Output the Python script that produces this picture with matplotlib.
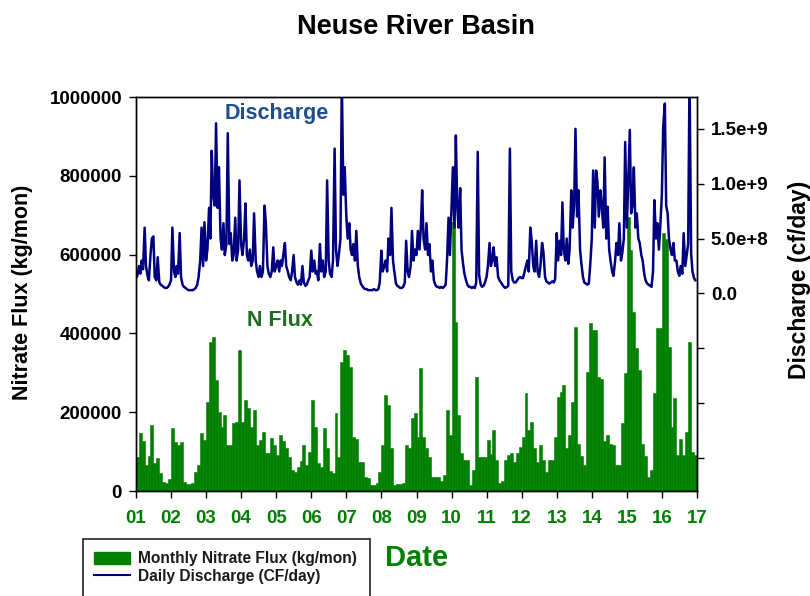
import matplotlib
matplotlib.use('Agg')
import matplotlib.pyplot as plt
import matplotlib.dates as mdates
from matplotlib.patches import Rectangle, Patch
from matplotlib.lines import Line2D
import numpy as np
import pandas as pd

plt.rcParams['font.family'] = ['Liberation Sans', 'DejaVu Sans']
plt.rcParams['font.weight'] = 'bold'

GREEN = '#008000'
NAVY = '#000080'

# monthly nitrate flux, thousand kg/mon, Jan 2001 .. Dec 2016
nitrate_flux_k = [
    86, 147, 127, 66, 90, 168, 70, 85, 45, 22, 20, 30,          # 2001
    160, 124, 117, 124, 22, 18, 18, 20, 48, 66, 147, 130,       # 2002
    226, 378, 391, 282, 200, 163, 193, 117, 117, 172, 175, 358,  # 2003
    175, 231, 210, 163, 205, 117, 130, 150, 96, 96, 135, 117,    # 2004
    91, 142, 127, 110, 86, 53, 48, 60, 75, 117, 66, 100,        # 2005
    231, 163, 70, 60, 160, 109, 50, 45, 198, 86, 327, 358,      # 2006
    345, 315, 137, 132, 74, 74, 35, 33, 15, 15, 20, 48,         # 2007
    117, 244, 218, 109, 15, 18, 18, 20, 117, 109, 185, 198,     # 2008
    137, 312, 137, 109, 86, 35, 35, 35, 25, 40, 205, 142,       # 2009
    683, 430, 193, 96, 79, 79, 15, 53, 289, 86, 86, 86,         # 2010
    129, 93, 155, 79, 20, 25, 79, 91, 96, 74, 96, 112,          # 2011
    137, 249, 155, 175, 109, 74, 117, 79, 48, 79, 79, 137,      # 2012
    239, 251, 269, 109, 142, 226, 416, 120, 90, 66, 302, 426,   # 2013
    409, 409, 289, 284, 127, 142, 120, 117, 66, 66, 172, 300,   # 2014
    695, 612, 455, 363, 307, 120, 90, 35, 53, 249, 414, 414,    # 2015
    655, 640, 366, 163, 236, 91, 132, 91, 150, 378, 99, 91,     # 2016
]

# discharge, 1e8 cf/day, sampled on the 1st and 15th of each month
discharge_1e8 = [
    1.4, 1.6, 2.5, 1.8, 3.0, 2.2, 6.0, 2.5, 1.6, 1.2, 3.5, 5.0, 5.2, 1.5, 1.2, 3.3, 1.0, 0.8, 0.7, 0.6, 0.5, 0.5, 0.6, 0.8,
    1.2, 6.0, 2.0, 1.5, 2.5, 1.8, 5.5, 1.5, 0.8, 0.6, 0.5, 0.4, 0.3, 0.3, 0.3, 0.3, 0.4, 0.5, 0.8, 1.5, 3.0, 6.0, 2.5, 6.5,
    3.0, 4.0, 7.8, 5.0, 13.0, 9.0, 8.0, 15.5, 7.8, 11.5, 5.0, 4.0, 6.4, 3.5, 4.5, 14.6, 4.5, 5.5, 3.0, 3.5, 6.9, 3.0, 4.0, 10.3,
    4.5, 3.5, 5.0, 8.2, 3.5, 3.0, 4.0, 2.5, 3.0, 7.3, 3.0, 2.0, 1.5, 2.5, 1.5, 2.0, 8.0, 6.4, 2.5, 1.8, 1.5, 2.0, 4.2, 2.0,
    2.5, 3.0, 2.0, 3.0, 2.5, 3.5, 4.6, 2.5, 2.0, 1.5, 1.2, 2.0, 3.5, 1.5, 1.0, 0.8, 1.2, 0.8, 2.5, 1.0, 0.7, 0.8, 1.2, 1.5,
    3.9, 2.0, 3.0, 1.8, 2.0, 1.2, 4.5, 2.0, 3.0, 1.5, 2.0, 10.3, 3.0, 1.8, 1.5, 3.0, 13.2, 4.0, 2.5, 3.5, 5.0, 19.5, 9.0, 11.5,
    7.0, 5.0, 6.4, 4.0, 3.5, 4.5, 3.0, 5.7, 2.5, 1.5, 0.9, 0.7, 0.5, 0.4, 0.4, 0.3, 0.3, 0.3, 0.3, 0.4, 0.3, 0.3, 0.4, 1.0,
    3.9, 2.0, 2.5, 3.0, 2.0, 5.0, 3.5, 7.8, 3.0, 2.0, 0.9, 0.7, 0.6, 0.5, 0.5, 0.6, 1.0, 4.8, 2.0, 1.5, 2.5, 5.7, 3.0, 4.0,
    3.5, 5.7, 4.0, 6.0, 9.4, 5.0, 4.0, 6.4, 3.5, 4.5, 2.0, 3.0, 1.2, 0.8, 0.6, 0.6, 0.5, 0.6, 0.5, 0.6, 0.8, 3.0, 6.9, 3.5,
    7.8, 11.5, 6.0, 14.4, 8.0, 6.0, 9.6, 4.0, 2.7, 1.8, 1.2, 0.8, 0.6, 0.6, 0.5, 0.6, 0.5, 1.0, 12.9, 1.7, 0.8, 0.6, 0.7, 1.0,
    1.5, 2.5, 4.6, 2.5, 3.0, 4.2, 2.5, 3.3, 1.5, 1.2, 1.0, 0.8, 0.6, 0.5, 0.6, 0.7, 13.2, 2.0, 1.2, 1.0, 1.0, 1.2, 1.4, 1.5,
    1.4, 1.4, 2.0, 2.5, 3.0, 2.0, 6.0, 4.8, 2.5, 2.0, 4.8, 2.0, 1.5, 2.5, 4.6, 3.8, 1.5, 1.1, 1.0, 0.9, 1.0, 1.1, 1.0, 1.3,
    5.5, 3.0, 4.8, 3.5, 8.3, 4.0, 3.0, 5.0, 2.7, 4.0, 9.4, 6.0, 8.0, 15.0, 7.0, 9.4, 4.0, 2.7, 1.5, 1.0, 0.9, 0.8, 0.9, 2.5,
    5.0, 11.2, 6.0, 11.2, 10.2, 7.0, 9.4, 7.9, 6.0, 12.4, 5.0, 7.9, 4.0, 3.0, 2.0, 1.6, 3.0, 4.6, 3.5, 6.4, 3.0, 3.7, 5.0, 13.8,
    6.0, 10.0, 14.9, 7.3, 8.0, 11.5, 6.0, 7.3, 5.0, 4.6, 3.5, 3.0, 1.8, 1.2, 0.9, 0.8, 0.7, 0.6, 2.0, 8.5, 5.0, 6.4, 4.0, 6.0,
    9.0, 15.2, 17.3, 8.0, 7.3, 5.0, 4.0, 3.5, 4.6, 3.0, 3.0, 2.0, 1.6, 2.5, 1.8, 5.5, 2.5, 3.4, 4.5, 20.0, 3.6, 2.0, 1.4, 1.2,
]

flux_ticks = [0, 200000, 400000, 600000, 800000, 1000000]
q_ticks = [-1.5e9, -1.0e9, -5e8, 0.0, 5e8, 1.0e9, 1.5e9]
q_tick_labels = ['', '', '', '0.0', '5.0e+8', '1.0e+9', '1.5e+9']

month_edges = mdates.date2num(pd.date_range('2001-01-01', '2017-01-01', freq='MS'))
q_dates = pd.date_range('2001-01-01', periods=len(discharge_1e8), freq='SMS')

fig = plt.figure(figsize=(8.1, 5.96), dpi=100)
ax = fig.add_axes([136 / 810, 1 - 491 / 596, 561 / 810, 394 / 596])

ax.bar(month_edges[:-1], np.array(nitrate_flux_k) * 1000, width=np.diff(month_edges),
       align='edge', color=GREEN, edgecolor=GREEN, linewidth=0.4)
ax.set_xlim(month_edges[0], month_edges[-1])
ax.set_ylim(0, 1000000)
ax.set_yticks(flux_ticks)
ax.set_yticklabels([str(t) for t in flux_ticks])
ax.xaxis.set_major_locator(mdates.YearLocator())
ax.xaxis.set_major_formatter(mdates.DateFormatter('%y'))
ax.tick_params(axis='both', direction='out', length=5, width=1, labelsize=13.5)
ax.tick_params(axis='x', labelcolor=GREEN, pad=9)
ax.tick_params(axis='y', pad=5)
ax.set_ylabel('Nitrate Flux (kg/mon)', fontsize=15.5, fontweight='bold')
ax.yaxis.set_label_coords(-0.184, 0.505)

ax2 = ax.twinx()
ax2.plot(q_dates, np.array(discharge_1e8) * 1e8, color=NAVY, lw=1.8)
ax2.set_xlim(month_edges[0], month_edges[-1])
ax2.set_ylim(-1.8e9, 1.79e9)
ax2.set_yticks(q_ticks)
ax2.set_yticklabels(q_tick_labels)
ax2.tick_params(axis='y', direction='out', length=5, width=1, labelsize=13.5, pad=5)
ax2.set_ylabel('Discharge (cf/day)', fontsize=16.5, fontweight='bold')
ax2.yaxis.set_label_coords(1.162, 0.536)

for a in (ax, ax2):
    for s in a.spines.values():
        s.set_linewidth(1.0)
        s.set_color('black')

ax.text(0.25, 0.957, 'Discharge', transform=ax.transAxes, ha='center', va='center',
        fontsize=15.5, fontweight='bold', color='#1f4e8c')
ax.text(0.257, 0.434, 'N Flux', transform=ax.transAxes, ha='center', va='center',
        fontsize=15.5, fontweight='bold', color='#1f6e1f')

fig.text(416 / 810, 1 - 27 / 596, 'Neuse River Basin', ha='center', va='center',
         fontsize=19.5, fontweight='bold')
fig.text(417 / 810, 1 - 558 / 596, 'Date', ha='center', va='center',
         fontsize=21, fontweight='bold', color=GREEN)

# legend box runs off the bottom of the figure
fig.patches.append(Rectangle((83 / 810, -0.05), (370 - 83) / 810, 0.05 + 1 - 539 / 596,
                             transform=fig.transFigure, fill=False, ec='#222222', lw=1.2))
handles = [Patch(facecolor=GREEN, edgecolor=GREEN), Line2D([], [], color=NAVY, lw=1.5)]
leg = fig.legend(handles, ['Monthly Nitrate Flux (kg/mon)', 'Daily Discharge (CF/day)'],
                 loc='upper left', bbox_to_anchor=(94 / 810, 1 - 551 / 596), frameon=False,
                 fontsize=11.2, handlelength=2.3, handleheight=0.8, labelspacing=0.2,
                 handletextpad=0.55, borderpad=0, borderaxespad=0)
for t in leg.get_texts():
    t.set_color('#1a1a1a')

fig.savefig('out.png', dpi=100)
